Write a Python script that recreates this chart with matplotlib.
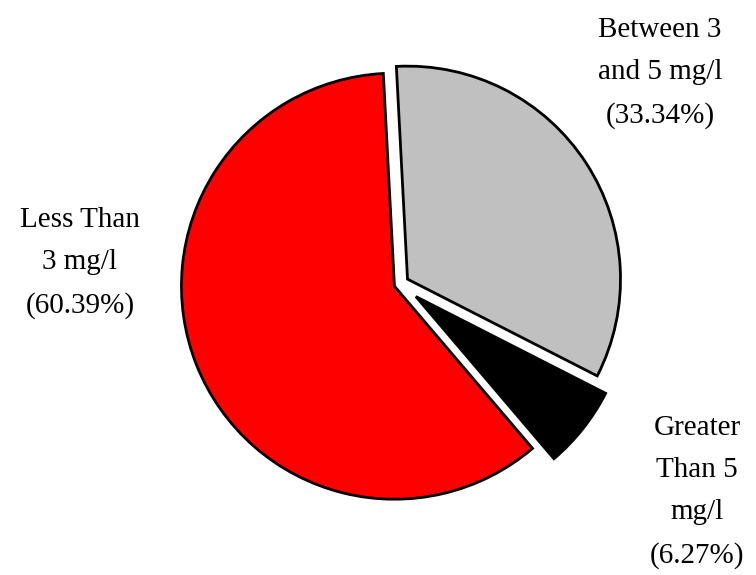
import matplotlib
matplotlib.use("Agg")
import matplotlib.pyplot as plt

# slices in drawing order (clockwise, starting just left of 12 o'clock)
categories = ["Between 3\nand 5 mg/l", "Greater\nThan 5\nmg/l", "Less Than\n3 mg/l"]
shares = [33.34, 6.27, 60.39]
colors = ["#c0c0c0", "#000000", "#ff0000"]
explode = [0.042, 0.095, 0.028]

# label anchors in pixel space (x, y from top)
label_pos = [(660, 73), (697, 492), (80, 263)]

W, H = 756, 575
cx, cy, R = 400, 284, 213  # pie centre / radius in pixels

fig = plt.figure(figsize=(W / 100, H / 100), dpi=100)
ax = fig.add_axes([0, 0, 1, 1])

ax.pie(shares, colors=colors, explode=explode, startangle=93,
       counterclock=False, radius=1,
       wedgeprops=dict(edgecolor="black", linewidth=2))
ax.set_xlim(-cx / R, (W - cx) / R)
ax.set_ylim(-(H - cy) / R, cy / R)
ax.axis("off")

for cat, val, (px, py) in zip(categories, shares, label_pos):
    fig.text(px / W, 1 - py / H, f"{cat}\n({val:.2f}%)", ha="center", va="center",
             fontsize=21, family="Liberation Serif", linespacing=1.8)

fig.savefig("out.png", dpi=100)
